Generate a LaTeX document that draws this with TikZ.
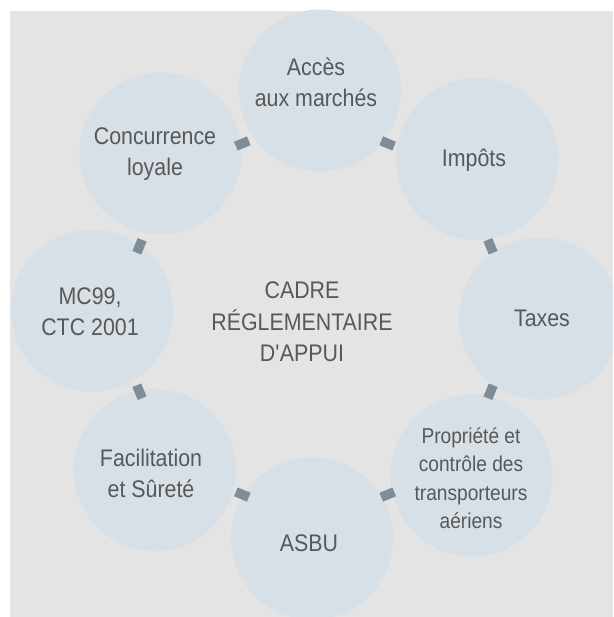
\documentclass[tikz,border=0pt]{standalone}
\usepackage{fontspec}
\setmainfont{Liberation Sans}[FakeStretch=0.89]
\usetikzlibrary{calc}
\definecolor{bgfill}{RGB}{228,228,228}
\definecolor{discfill}{RGB}{216,224,231}
\definecolor{connfill}{RGB}{127,141,153}
\definecolor{txtcol}{RGB}{88,88,88}
\begin{document}
\begin{tikzpicture}[x=1pt,y=1pt,
  discnode/.style={circle, fill=discfill, minimum size=162pt, inner sep=0pt},
  lbl/.style={anchor=base, align=center, text=txtcol, inner sep=0pt, font=\fontsize{24}{31.5}\selectfont},
  smalllbl/.style={lbl, font=\fontsize{21.5}{28.5}\selectfont},
  linkbox/.style={fill=connfill, minimum width=14pt, minimum height=9.5pt, inner sep=0pt}]
\useasboundingbox (0,0) rectangle (613,617);
\fill[white] (0,0) rectangle (613,617);
\clip (0,0) rectangle (613,617);
\fill[bgfill] (10,0) rectangle (613,606);
\coordinate (O) at (316,302.5);
\node[discnode] (acces) at ($(O)+(89:224)$) {};
\node[discnode] (impots) at ($(O)+(44:224)$) {};
\node[discnode] (taxes) at ($(O)+(-1:224)$) {};
\node[discnode] (propriete) at ($(O)+(-46:224)$) {};
\node[discnode] (asbu) at ($(O)+(-91:224)$) {};
\node[discnode] (facil) at ($(O)+(-136:224)$) {};
\node[discnode] (mc) at ($(O)+(179:224)$) {};
\node[discnode] (concur) at ($(O)+(134:224)$) {};
% connectors
\coordinate (C) at (315,298);
\node[linkbox, rotate=-22.5] (l1) at ($(C)+(67.5:190)$) {};
\node[linkbox, rotate=-67.5] (l2) at ($(C)+(22.5:190)$) {};
\node[linkbox, rotate=-112.5] (l3) at ($(C)+(-22.5:190)$) {};
\node[linkbox, rotate=-157.5] (l4) at ($(C)+(-67.5:190)$) {};
\node[linkbox, rotate=157.5] (l5) at ($(C)+(-112.5:190)$) {};
\node[linkbox, rotate=112.5] (l6) at ($(C)+(-157.5:190)$) {};
\node[linkbox, rotate=67.5] (l7) at ($(C)+(157.5:190)$) {};
\node[linkbox, rotate=22.5] (l8) at ($(C)+(112.5:190)$) {};
% labels (base anchor = baseline of the last line)
\node[lbl] (tacces) at (316,510) {Accès\\aux marchés};
\node[lbl] (timpots) at (474,450) {Impôts};
\node[lbl] (ttaxes) at (542,290) {Taxes};
\node[smalllbl] (tprop) at (471,88) {Propriété et\\contrôle des\\transporteurs\\aériens};
\node[lbl] (tasbu) at (309,65) {ASBU};
\node[lbl] (tfacil) at (151,119) {Facilitation\\et Sûreté};
\node[lbl] (tmc) at (90,281) {MC99,\\CTC 2001};
\node[lbl] (tconcur) at (155,441) {Concurrence\\loyale};
\node[lbl] (tcentre) at (302,255) {CADRE\\RÉGLEMENTAIRE\\D\textquotesingle APPUI};
\end{tikzpicture}
\end{document}
